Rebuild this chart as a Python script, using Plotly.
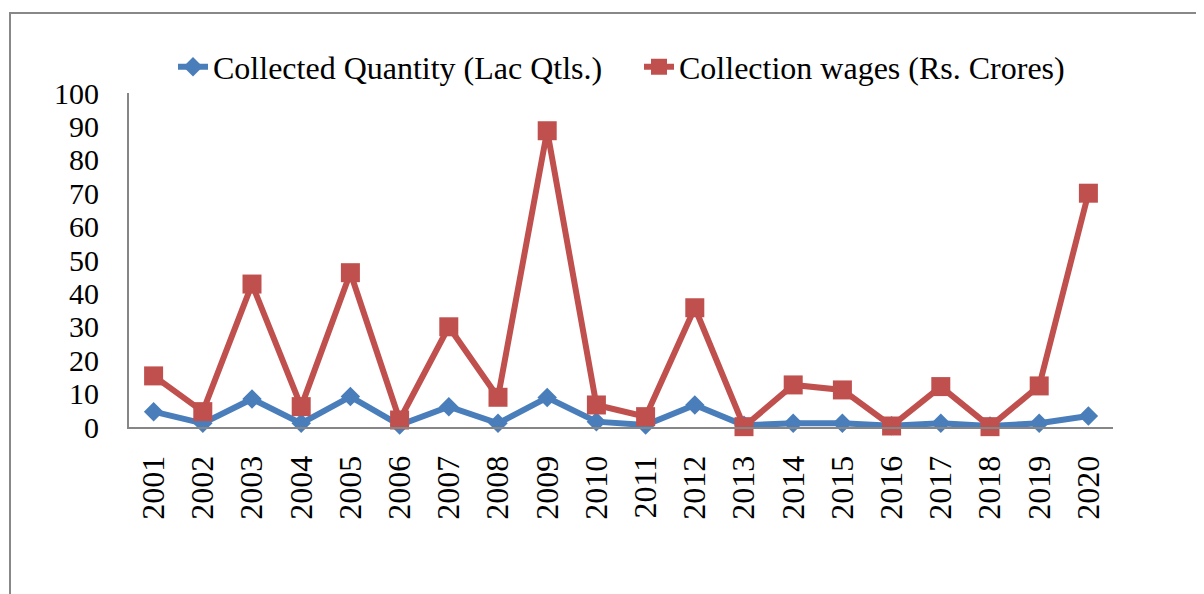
import plotly.graph_objects as go

years = [str(y) for y in range(2001, 2021)]
quantity = [4.6, 1.1, 8.4, 1.1, 9.1, 0.6, 6.1, 1.1, 8.8, 1.6,
            0.6, 6.6, 0.5, 1.1, 1.1, 0.4, 1.1, 0.3, 1.1, 3.3]
wages = [15.3, 4.6, 42.8, 6.1, 46.2, 2.1, 30.0, 8.9, 88.7, 6.6,
         3.1, 35.7, 0.1, 12.6, 11.1, 0.3, 12.1, 0.1, 12.3, 70.0]
y_ticks = list(range(0, 101, 10))

BLUE = "#4A7EBB"
RED = "#C0504D"
FONT = "Liberation Serif"

fig = go.Figure()
fig.add_trace(go.Scatter(
    x=years, y=quantity, mode="lines+markers",
    name="Collected Quantity (Lac Qtls.)",
    line=dict(color=BLUE, width=6),
    marker=dict(symbol="diamond", size=15, color=BLUE),
    cliponaxis=False,
))
fig.add_trace(go.Scatter(
    x=years, y=wages, mode="lines+markers",
    name="Collection wages (Rs. Crores)",
    line=dict(color=RED, width=6),
    marker=dict(symbol="square", size=19, color=RED),
    cliponaxis=False,
))

# page has an 8px body margin; figure is offset by (8, 8)
OFF = 8
W, H = 1204 - OFF, 594 - OFF
L, R, T, B = 129 - OFF, 91, 93 - OFF, 167
pw, ph = W - L - R, H - T - B

fig.update_layout(
    width=W, height=H,
    margin=dict(l=L, r=R, t=T, b=B),
    paper_bgcolor="white", plot_bgcolor="white",
    font=dict(family=FONT, size=30, color="black"),
    showlegend=True,
    legend=dict(
        orientation="h",
        x=(218 - OFF - 45 - L) / pw, xanchor="left",
        y=1 + (T - (67 - OFF)) / ph, yanchor="middle",
        font=dict(family=FONT, size=32),
        bgcolor="rgba(0,0,0,0)",
        entrywidth=421, entrywidthmode="pixels",
        tracegroupgap=0,
    ),
    xaxis=dict(
        type="category", range=[-0.5, 19.5],
        showgrid=False, zeroline=False,
        showline=True, linecolor="#868686", linewidth=2,
        ticks="", tickangle=-90,
        tickfont=dict(family=FONT, size=32),
        ticklabelstandoff=14,
    ),
    yaxis=dict(
        range=[0, 100], tickvals=y_ticks,
        showgrid=False, zeroline=False,
        showline=True, linecolor="#868686", linewidth=2,
        ticks="", tickfont=dict(family=FONT, size=30),
        ticklabelstandoff=22,
    ),
    shapes=[dict(
        type="rect", xref="paper", yref="paper",
        x0=(10 - OFF - L) / pw, x1=1.5,
        y0=-1.0, y1=1 + (T - (13 - OFF)) / ph,
        line=dict(color="#888888", width=2),
        fillcolor="rgba(0,0,0,0)", layer="below",
    )],
)

fig.write_html("out.html")
